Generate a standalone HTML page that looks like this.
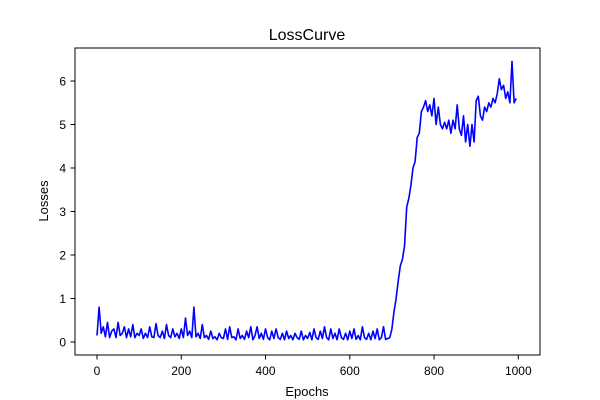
<!DOCTYPE html>
<html><head><meta charset="utf-8"><style>
body{margin:0;background:#fff;}
svg{display:block;font-family:"Liberation Sans","DejaVu Sans",sans-serif;}
</style></head><body>
<svg id="chart" width="600" height="400" viewBox="0 0 600 400">
<rect width="600" height="400" fill="#fff"/>
<text x="307" y="40" font-size="16" text-anchor="middle">LossCurve</text>
<g id="axes"></g>
<polyline id="line" fill="none" stroke="#0000ff" stroke-width="1.6" stroke-linejoin="round"/>
<rect x="75" y="48" width="465" height="307" fill="none" stroke="#000" stroke-width="1"/>
<text x="307" y="396" font-size="13" text-anchor="middle">Epochs</text>
<text x="48" y="201" font-size="13" text-anchor="middle" transform="rotate(-90 48 201)">Losses</text>
</svg>
<script>
const step = 5;
const losses = [0.15,0.8,0.2,0.35,0.12,0.45,0.1,0.25,0.3,0.1,0.45,0.15,0.2,0.35,0.1,0.3,0.12,0.4,0.1,0.2,
0.15,0.3,0.08,0.2,0.1,0.35,0.12,0.1,0.42,0.15,0.1,0.25,0.08,0.4,0.15,0.1,0.3,0.12,0.2,0.08,
0.3,0.1,0.55,0.15,0.25,0.1,0.8,0.12,0.2,0.08,0.4,0.1,0.15,0.06,0.25,0.08,0.12,0.05,0.2,0.1,
0.08,0.3,0.06,0.35,0.1,0.12,0.05,0.3,0.08,0.15,0.06,0.25,0.1,0.35,0.05,0.15,0.35,0.08,0.2,0.06,
0.3,0.1,0.05,0.25,0.08,0.3,0.1,0.06,0.2,0.05,0.25,0.08,0.15,0.05,0.2,0.1,0.06,0.25,0.05,0.15,
0.08,0.22,0.05,0.3,0.1,0.06,0.25,0.08,0.35,0.1,0.05,0.3,0.08,0.2,0.05,0.3,0.1,0.06,0.2,0.05,
0.25,0.08,0.3,0.06,0.15,0.05,0.35,0.1,0.06,0.2,0.05,0.25,0.08,0.3,0.05,0.1,0.35,0.06,0.08,
0.1,0.3,0.7,1.0,1.4,1.75,1.9,2.2,3.1,3.3,3.6,4.0,4.15,4.7,4.8,5.3,5.4,5.55,5.3,5.45,
5.2,5.6,5.0,5.4,5.0,4.9,5.05,4.9,5.1,4.8,5.1,4.9,5.45,4.9,4.75,5.2,4.6,5.0,4.5,5.0,
4.6,5.55,5.65,5.2,5.1,5.4,5.3,5.5,5.4,5.6,5.5,5.7,6.05,5.8,5.9,5.6,5.75,5.5,6.45,5.5,5.6];
const xTicks = [0,200,400,600,800,1000];
const yTicks = [0,1,2,3,4,5,6];
const xs = v => 97 + v*0.4213;
const ys = v => 342 - v*43.5;
const axes = document.getElementById('axes');
const NS = 'http://www.w3.org/2000/svg';
xTicks.forEach(t=>{
  const l=document.createElementNS(NS,'line');
  
  
  l.setAttribute('x1',xs(t));l.setAttribute('x2',xs(t));l.setAttribute('y1',355);l.setAttribute('y2',359.5);l.setAttribute('stroke','#000');
  axes.appendChild(l);
  const tx=document.createElementNS(NS,'text');
  
  
  tx.setAttribute('x',xs(t));tx.setAttribute('y',375);tx.setAttribute('font-size','12');tx.setAttribute('text-anchor','middle');
  tx.textContent=t;axes.appendChild(tx);
});
yTicks.forEach(t=>{
  const l=document.createElementNS(NS,'line');
  
  
  l.setAttribute('x1',70.5);l.setAttribute('x2',75);l.setAttribute('y1',ys(t));l.setAttribute('y2',ys(t));l.setAttribute('stroke','#000');
  axes.appendChild(l);
  const tx=document.createElementNS(NS,'text');
  
  
  tx.setAttribute('x',66);tx.setAttribute('y',ys(t)+4.5);tx.setAttribute('font-size','12');tx.setAttribute('text-anchor','end');
  tx.textContent=t;axes.appendChild(tx);
});
document.getElementById('line').setAttribute('points', losses.map((v,i)=>xs(i*step).toFixed(1)+','+ys(v).toFixed(1)).join(' '));
</script>
</body></html>
